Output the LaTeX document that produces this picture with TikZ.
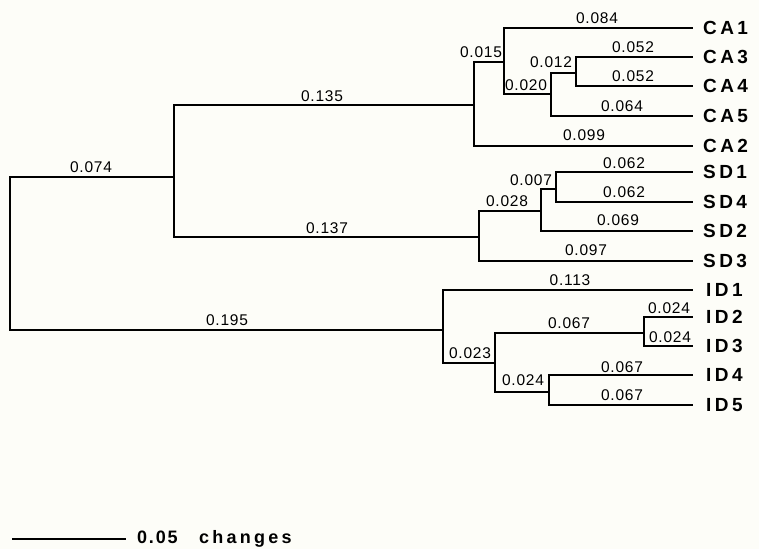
\documentclass[tikz,border=0pt]{standalone}
\usepackage{fontspec}
\setmainfont{Liberation Sans}
\newfontfamily\numfont[LetterSpace=5]{Liberation Sans}
\newfontfamily\leaffont[LetterSpace=18]{Liberation Sans}
\newfontfamily\barfont[LetterSpace=10]{Liberation Sans}
\newfontfamily\unitfont[LetterSpace=18]{Liberation Sans}
\definecolor{paper}{RGB}{253,253,248}
\tikzset{
  branch/.style={line width=1.6pt, line cap=rect},
  blen/.style={anchor=base, inner sep=0pt, font=\numfont\fontsize{15.5}{15.5}\selectfont},
  taxon/.style={anchor=base west, inner sep=0pt, font=\leaffont\bfseries\fontsize{19}{19}\selectfont},
}
\begin{document}
\begin{tikzpicture}[x=1pt,y=-1pt]
\fill[paper] (0,0) rectangle (759,549);
\useasboundingbox (0,0) rectangle (759,549);

% internal nodes (attachment points on each vertical bar)
\coordinate (root) at (10,250);
\coordinate (A)    at (174,177);
\coordinate (ID)   at (443,330);
\coordinate (CA)   at (474,105);
\coordinate (SD)   at (479,237);
\coordinate (CAa)  at (504,62);
\coordinate (CAb)  at (551,94);
\coordinate (CAc)  at (576,73);
\coordinate (SDa)  at (541,211);
\coordinate (SDb)  at (556,189);
\coordinate (IDa)  at (495,363);
\coordinate (IDb)  at (644,333);
\coordinate (IDc)  at (549,392);

% leaf tips
\foreach \n/\y in {CA1/28,CA3/57,CA4/86,CA5/116,CA2/146,
                   SD1/172,SD4/202,SD2/231,SD3/261,
                   ID1/290,ID2/317,ID3/346,ID4/375,ID5/405}{
  \coordinate (t\n) at (692,\y);
}

% taxon labels
\node[taxon] (nCA1) at (703,34)  {CA1};
\node[taxon] (nCA3) at (703,63)  {CA3};
\node[taxon] (nCA4) at (703,92)  {CA4};
\node[taxon] (nCA5) at (703,122) {CA5};
\node[taxon] (nCA2) at (703,152) {CA2};
\node[taxon] (nSD1) at (703,178) {SD1};
\node[taxon] (nSD4) at (703,208) {SD4};
\node[taxon] (nSD2) at (703,237) {SD2};
\node[taxon] (nSD3) at (703,267) {SD3};
\node[taxon] (nID1) at (706,296) {ID1};
\node[taxon] (nID2) at (706,323) {ID2};
\node[taxon] (nID3) at (706,352) {ID3};
\node[taxon] (nID4) at (706,381) {ID4};
\node[taxon] (nID5) at (706,411) {ID5};

% branches
\draw[branch] (root) |- (A);
\draw[branch] (root) |- (ID);
\draw[branch] (A) |- (CA);
\draw[branch] (A) |- (SD);
\draw[branch] (CA) |- (CAa);
\draw[branch] (CA) |- (tCA2);
\draw[branch] (CAa) |- (tCA1);
\draw[branch] (CAa) |- (CAb);
\draw[branch] (CAb) |- (CAc);
\draw[branch] (CAb) |- (tCA5);
\draw[branch] (CAc) |- (tCA3);
\draw[branch] (CAc) |- (tCA4);
\draw[branch] (SD) |- (SDa);
\draw[branch] (SD) |- (tSD3);
\draw[branch] (SDa) |- (SDb);
\draw[branch] (SDa) |- (tSD2);
\draw[branch] (SDb) |- (tSD1);
\draw[branch] (SDb) |- (tSD4);
\draw[branch] (ID) |- (tID1);
\draw[branch] (ID) |- (IDa);
\draw[branch] (IDa) |- (IDb);
\draw[branch] (IDa) |- (IDc);
\draw[branch] (IDb) |- (tID2);
\draw[branch] (IDb) |- (tID3);
\draw[branch] (IDc) |- (tID4);
\draw[branch] (IDc) |- (tID5);

% branch lengths
\node[blen] (b1)  at (91,172)  {0.074};
\node[blen] (b2)  at (322,101) {0.135};
\node[blen] (b3)  at (327,233) {0.137};
\node[blen] (b4)  at (227,325) {0.195};
\node[blen] (b5)  at (481,57)  {0.015};
\node[blen] (b6)  at (597,23)  {0.084};
\node[blen] (b7)  at (551,67)  {0.012};
\node[blen] (b8)  at (633,52)  {0.052};
\node[blen] (b9)  at (633,81)  {0.052};
\node[blen] (b10) at (526,90)  {0.020};
\node[blen] (b11) at (622,111) {0.064};
\node[blen] (b12) at (584,140) {0.099};
\node[blen] (b13) at (624,168) {0.062};
\node[blen] (b14) at (531,185) {0.007};
\node[blen] (b15) at (624,197) {0.062};
\node[blen] (b16) at (507,206) {0.028};
\node[blen] (b17) at (618,225) {0.069};
\node[blen] (b18) at (586,255) {0.097};
\node[blen] (b19) at (570,285) {0.113};
\node[blen] (b20) at (669,313) {0.024};
\node[blen] (b21) at (569,328) {0.067};
\node[blen] (b22) at (670,342) {0.024};
\node[blen] (b23) at (470,358) {0.023};
\node[blen] (b24) at (622,372) {0.067};
\node[blen] (b25) at (523,385) {0.024};
\node[blen] (b26) at (622,400) {0.067};

% scale bar
\coordinate (s0) at (13,539);
\coordinate (s1) at (125,539);
\draw[branch] (s0) -- (s1);
\node[anchor=base west, inner sep=0pt, font=\barfont\bfseries\fontsize{18}{18}\selectfont] (sval) at (137,543) {0.05};
\node[anchor=base west, inner sep=0pt, font=\unitfont\bfseries\fontsize{18}{18}\selectfont] (sunit) at (199,543) {changes};
\end{tikzpicture}
\end{document}
